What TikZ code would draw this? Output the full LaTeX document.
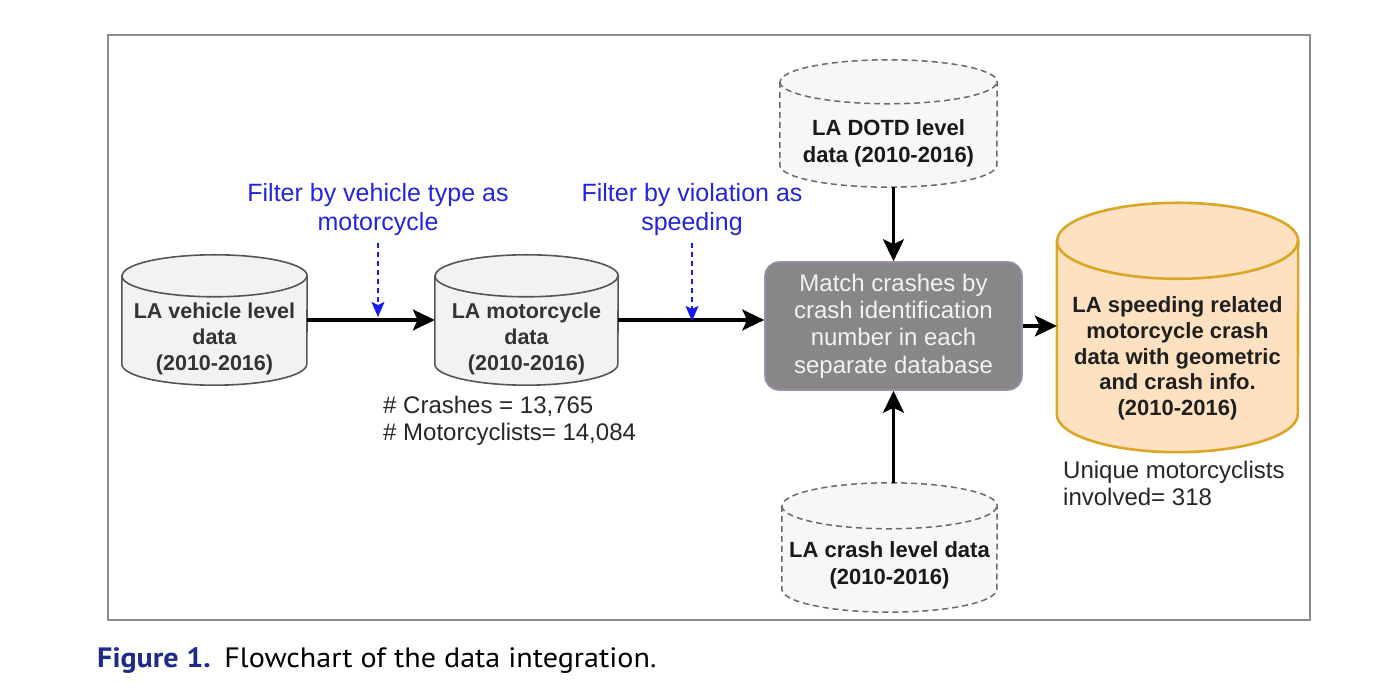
\documentclass[tikz,border=0pt]{standalone}
\usepackage{fontspec}
\setmainfont{Liberation Sans}
\newfontfamily\capfont{PT Sans}
\usetikzlibrary{arrows.meta,backgrounds,calc}
\definecolor{framegray}{HTML}{8C8C8C}
\definecolor{cylfill}{HTML}{F2F2F2}
\definecolor{cylline}{HTML}{555555}
\definecolor{dashline}{HTML}{6A6A6A}
\definecolor{txtgray}{HTML}{333333}
\definecolor{filterblue}{HTML}{2424D8}
\definecolor{arrblue}{HTML}{1A1AF0}
\definecolor{matchfill}{HTML}{878787}
\definecolor{matchline}{HTML}{9D8FAB}
\definecolor{matchtxt}{HTML}{F2F2F2}
\definecolor{orfill}{HTML}{FDE1C0}
\definecolor{orline}{HTML}{D9A626}
\definecolor{capblue}{HTML}{1E2A8A}
\newcommand\drawcyl[4]{%
  \path[#2] ([yshift=-#4]#1.north west) -- ([yshift=#4]#1.south west)
    arc[start angle=180,end angle=360,x radius=#3,y radius=#4]
    -- ([yshift=-#4]#1.north east)
    arc[start angle=0,end angle=180,x radius=#3,y radius=#4] -- cycle;
  \path[#2,fill=none] ([yshift=-#4]#1.north west)
    arc[start angle=180,end angle=360,x radius=#3,y radius=#4];
}
\begin{document}
\begin{tikzpicture}[x=1pt,y=1pt,
  holder/.style={draw=none,inner sep=0pt,rectangle},
  cyllbl/.style={font=\fontsize{21.5}{26}\selectfont\bfseries,text=txtgray,align=center,inner sep=0pt},
  cyllblb/.style={font=\fontsize{22}{26.5}\selectfont\bfseries,text=black!90,align=center,inner sep=0pt},
  orlbl/.style={font=\fontsize{22}{25.7}\selectfont\bfseries,text=black!88,align=center,inner sep=0pt},
  filterlbl/.style={font=\fontsize{25}{29}\selectfont,text=filterblue,align=center,inner sep=0pt},
  statlbl/.style={font=\fontsize{24}{27}\selectfont,text=black!85,align=left,inner sep=0pt},
  cylsolid/.style={draw=cylline,fill=cylfill,line width=1.6pt},
  cyldash/.style={draw=dashline,fill=cylfill!60!white,line width=1.5pt,dash pattern=on 6pt off 4pt},
  cylor/.style={draw=orline,fill=orfill,line width=2.6pt},
  matchbox/.style={draw=matchline,fill=matchfill,line width=1.6pt,rounded corners=14pt,
    text=matchtxt,align=center,font=\fontsize{24}{27.3}\selectfont},
  flow/.style={draw=black,line width=3.1pt,-{Stealth[length=22pt,width=21pt,inset=5pt]}},
  filterarrow/.style={draw=arrblue,line width=1.7pt,dash pattern=on 5pt off 4pt,
    -{Stealth[length=15pt,width=13pt,inset=3pt]}}
]
\useasboundingbox (0,0) rectangle (1395,700);
\draw[framegray,line width=1.2pt] (108,665) rectangle (1310,80);

% holders
\node[holder,minimum width=185pt,minimum height=130pt] (c1) at (214.5,380) {};
\node[holder,minimum width=183pt,minimum height=130pt] (c2) at (526.5,380) {};
\node[holder,minimum width=217pt,minimum height=127pt] (dotd) at (888.5,576.5) {};
\node[holder,minimum width=215pt,minimum height=129pt] (crash) at (889.5,152.5) {};
\node[holder,minimum width=241pt,minimum height=249pt] (out) at (1177.5,372.5) {};

\begin{scope}[on background layer]
  \drawcyl{c1}{cylsolid}{92.5pt}{21pt}
  \drawcyl{c2}{cylsolid}{91.5pt}{21pt}
  \drawcyl{dotd}{cyldash}{108.5pt}{22pt}
  \drawcyl{crash}{cyldash}{107.5pt}{23pt}
  \drawcyl{out}{cylor}{120.5pt}{38pt}
\end{scope}

% labels
\node[cyllbl] (c1t) at (214.5,361) {LA vehicle level\\data\\(2010-2016)};
\node[cyllbl] (c2t) at (526.5,361) {LA motorcycle\\data\\(2010-2016)};
\node[cyllblb] (dotdt) at (888.5,556.5) {LA DOTD level\\data (2010-2016)};
\node[cyllblb] (crasht) at (889.5,134.5) {LA crash level data\\(2010-2016)};
\node[orlbl] (outt) at (1177.5,341.5) {LA speeding related\\motorcycle crash\\data with geometric\\and crash info.\\(2010-2016)};

\node[matchbox,minimum width=257pt,minimum height=128pt,inner sep=0pt] (match) at (893.5,374)
  {Match crashes by\\crash identification\\number in each\\separate database};

\node[filterlbl] (f1) at (378,490.5) {Filter by vehicle type as\\motorcycle};
\node[filterlbl] (f2) at (692,490.5) {Filter by violation as\\speeding};

\node[statlbl,anchor=west] (stats) at (383,279.5) {\# Crashes = 13,765\\\# Motorcyclists= 14,084};
\node[statlbl,anchor=west] (uniq) at (1063,217) {Unique motorcyclists\\involved= 318};

% connectors
\draw[flow] (c1.east) -- (c2.west);
\draw[flow] (c2.east) -- (c2.east -| match.west);
\draw[flow] (match.east) -- (match.east -| out.west);
\draw[flow] (match.north |- dotd.south) -- (match.north);
\draw[flow] (match.south |- crash.north) -- (match.south);

\coordinate (f1end) at (378,383);
\coordinate (f2end) at (692,379);
\coordinate (f1start) at (378,457);
\coordinate (f2start) at (692,457);
\draw[filterarrow] (f1start) -- (f1end);
\draw[filterarrow] (f2start) -- (f2end);

% caption
\node[anchor=west,inner sep=0pt,font=\capfont\fontsize{28}{30}\selectfont,xscale=1.075,transform shape] (cap) at (97,39)
  {\textcolor{capblue}{\bfseries Figure 1.}\hspace{0.45em}Flowchart of the data integration.};
\end{tikzpicture}
\end{document}
